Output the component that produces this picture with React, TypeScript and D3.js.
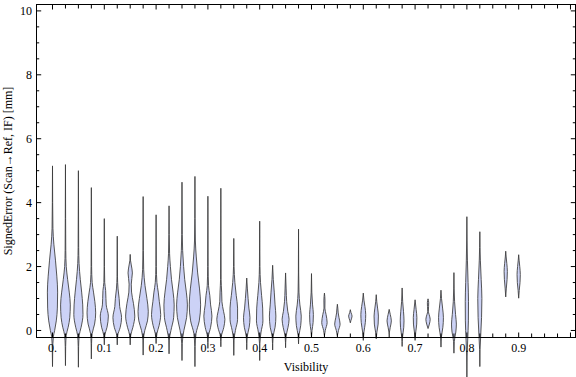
import React from "react";
import * as d3 from "d3";

const visibility: number[] = [
  0, 0.025, 0.05, 0.075, 0.1, 0.125, 0.15, 0.175, 0.2, 0.225, 0.25, 0.275,
  0.3, 0.325, 0.35, 0.375, 0.4, 0.425, 0.45, 0.475, 0.5, 0.525, 0.55, 0.575,
  0.6, 0.625, 0.65, 0.675, 0.7, 0.725, 0.75, 0.775, 0.8, 0.825, 0.875, 0.9,
];

// density profiles: [signed error, relative density]
const profiles: [number, number][][] = [
  [[-1.13,0],[-0.6,0.04],[-0.2,0.15],[0,0.4],[0.3,0.7],[0.7,0.9],[1.2,0.95],[1.7,0.8],[2.2,0.55],[2.7,0.25],[3.2,0.08],[4,0.03],[5.15,0]],
  [[-1.1,0],[-0.5,0.04],[-0.15,0.15],[0.1,0.5],[0.4,0.8],[0.8,0.9],[1.2,0.7],[1.6,0.4],[2.0,0.15],[2.5,0.06],[3.5,0.03],[5.19,0]],
  [[-1.15,0],[-0.5,0.04],[-0.15,0.15],[0.1,0.5],[0.5,0.85],[0.8,0.8],[1.2,0.6],[1.6,0.35],[2.1,0.12],[2.6,0.05],[5.0,0]],
  [[-0.89,0],[-0.4,0.04],[-0.1,0.15],[0.2,0.6],[0.55,0.8],[0.9,0.65],[1.2,0.4],[1.5,0.15],[2.0,0.05],[4.47,0]],
  [[-0.45,0],[-0.15,0.1],[0.1,0.5],[0.45,0.75],[0.8,0.35],[1.0,0.3],[1.25,0.25],[1.5,0.08],[2,0.03],[3.5,0]],
  [[-0.45,0],[-0.15,0.1],[0.1,0.55],[0.4,0.8],[0.75,0.45],[1.0,0.35],[1.3,0.15],[1.7,0.04],[2.95,0]],
  [[-0.45,0],[-0.15,0.1],[0.1,0.5],[0.45,0.85],[0.85,0.6],[1.2,0.25],[1.45,0.2],[1.8,0.4],[2.05,0.2],[2.2,0.05],[2.38,0]],
  [[-0.77,0],[-0.3,0.05],[0,0.3],[0.3,0.8],[0.6,0.95],[1.0,0.7],[1.4,0.35],[1.9,0.1],[2.5,0.04],[4.19,0]],
  [[-0.41,0],[-0.1,0.15],[0.15,0.55],[0.5,0.85],[0.9,0.6],[1.2,0.4],[1.5,0.15],[2,0.04],[3.62,0]],
  [[-0.73,0],[-0.3,0.05],[0,0.35],[0.4,0.85],[0.8,0.95],[1.2,0.75],[1.6,0.45],[2.0,0.25],[2.4,0.1],[3,0.04],[3.9,0]],
  [[-0.94,0],[-0.4,0.05],[0,0.35],[0.4,0.85],[0.8,1.0],[1.2,0.8],[1.6,0.5],[2.0,0.3],[2.5,0.12],[3,0.05],[4.64,0]],
  [[-1.13,0],[-0.5,0.04],[-0.1,0.2],[0.3,0.8],[0.8,1.05],[1.3,0.85],[1.8,0.5],[2.3,0.25],[2.8,0.08],[3.5,0.03],[4.82,0]],
  [[-0.56,0],[-0.2,0.08],[0.1,0.5],[0.45,0.75],[0.8,0.5],[1.1,0.35],[1.4,0.12],[2,0.04],[4.2,0]],
  [[-0.51,0],[-0.2,0.08],[0.1,0.55],[0.35,0.75],[0.6,0.5],[0.9,0.2],[1.2,0.15],[1.6,0.05],[4.45,0]],
  [[-0.78,0],[-0.3,0.05],[0,0.3],[0.35,0.7],[0.7,0.7],[1.1,0.45],[1.5,0.2],[2.0,0.05],[2.88,0]],
  [[-0.6,0],[-0.2,0.08],[0.1,0.45],[0.4,0.6],[0.7,0.4],[1.0,0.25],[1.3,0.12],[1.64,0]],
  [[-0.94,0],[-0.4,0.04],[-0.05,0.25],[0.3,0.6],[0.7,0.55],[1.1,0.35],[1.5,0.15],[2.0,0.05],[3.42,0]],
  [[-0.61,0],[-0.2,0.08],[0.1,0.45],[0.45,0.6],[0.8,0.45],[1.2,0.3],[1.6,0.12],[2.04,0]],
  [[-0.54,0],[-0.2,0.08],[0.1,0.45],[0.35,0.65],[0.6,0.4],[0.9,0.2],[1.3,0.1],[1.8,0]],
  [[-0.42,0],[-0.15,0.08],[0.15,0.4],[0.45,0.5],[0.8,0.25],[1.2,0.08],[1.8,0.03],[3.17,0]],
  [[-0.21,0],[0,0.1],[0.25,0.3],[0.5,0.35],[0.8,0.2],[1.2,0.06],[1.78,0]],
  [[-0.16,0],[0,0.15],[0.25,0.5],[0.5,0.3],[0.7,0.08],[0.95,0.1],[1.17,0]],
  [[-0.16,0],[0,0.2],[0.2,0.5],[0.4,0.3],[0.55,0.15],[0.7,0.08],[0.82,0]],
  [[0.24,0],[0.32,0.12],[0.45,0.32],[0.56,0.12],[0.65,0]],
  [[-0.31,0],[-0.05,0.12],[0.25,0.38],[0.5,0.45],[0.75,0.3],[0.95,0.12],[1.17,0]],
  [[-0.26,0],[-0.05,0.12],[0.2,0.35],[0.45,0.4],[0.7,0.25],[0.9,0.1],[1.12,0]],
  [[-0.1,0],[0.1,0.2],[0.3,0.4],[0.5,0.2],[0.66,0]],
  [[-0.5,0],[-0.2,0.08],[0.1,0.3],[0.3,0.35],[0.6,0.25],[0.9,0.1],[1.33,0]],
  [[-0.31,0],[-0.05,0.12],[0.2,0.3],[0.4,0.33],[0.65,0.2],[0.96,0]],
  [[0.06,0],[0.2,0.25],[0.35,0.4],[0.5,0.2],[0.6,0.06],[0.75,0.1],[0.87,0.12],[0.99,0]],
  [[-0.52,0],[-0.2,0.08],[0.1,0.35],[0.4,0.45],[0.7,0.3],[1.0,0.1],[1.26,0]],
  [[-0.71,0],[-0.35,0.06],[-0.05,0.35],[0.2,0.45],[0.5,0.3],[0.9,0.12],[1.3,0.04],[1.81,0]],
  [[-1.46,0],[-0.8,0.04],[-0.3,0.15],[0.3,0.28],[0.9,0.3],[1.5,0.22],[2.2,0.1],[2.8,0.04],[3.56,0]],
  [[-1.13,0],[-0.6,0.04],[-0.2,0.15],[0.4,0.32],[1.0,0.38],[1.6,0.25],[2.2,0.1],[2.6,0.04],[3.09,0]],
  [[1.05,0],[1.3,0.1],[1.6,0.25],[1.85,0.3],[2.1,0.2],[2.3,0.08],[2.48,0]],
  [[1.01,0],[1.25,0.1],[1.5,0.25],[1.75,0.3],[2.0,0.2],[2.2,0.08],[2.37,0]],
];

const xMajorTicks: number[] = [0, 0.1, 0.2, 0.3, 0.4, 0.5, 0.6, 0.7, 0.8, 0.9, 1.0];
const xTickLabels: string[] = ["0.", "0.1", "0.2", "0.3", "0.4", "0.5", "0.6", "0.7", "0.8", "0.9"];
const yMajorTicks: number[] = [0, 2, 4, 6, 8, 10];
const yTickLabels: string[] = ["0", "2", "4", "6", "8", "10"];

const W = 576;
const H = 377;
const left = 36.5, right = 575.5, top = 4.5, bottom = 337.5;

export default function App() {
  const x = d3.scaleLinear().domain([-0.0309, 1.0097]).range([left, right]);
  const y = d3.scaleLinear().domain([-0.22, 10.2]).range([bottom, top]);
  const w = d3.scaleLinear().domain([0, 1]).range([0, 5.4]);

  const xMinor = d3.range(0, 1.0001, 0.025).filter(
    (v) => !xMajorTicks.some((m) => Math.abs(m - v) < 1e-6)
  );
  const yMinor = d3.range(0, 10.2, 0.5).filter((v) => Math.abs(v % 2) > 1e-6);

  const font = "'Liberation Serif', 'Times New Roman', serif";

  return (
    <svg width={W} height={H} style={{ position: "absolute", left: 0, top: 0, background: "#fff" }}>
      {/* violins */}
      {visibility.map((v, i) => {
        const cx = x(v);
        const area = d3
          .area<[number, number]>()
          .y((d) => y(d[0]))
          .x0((d) => cx - w(d[1]))
          .x1((d) => cx + w(d[1]))
          .curve(d3.curveMonotoneY);
        return (
          <path
            key={i}
            d={area(profiles[i]) || ""}
            fill="#ccd2f6"
            stroke="#3a3a3a"
            strokeOpacity={0.85}
            strokeWidth={1}
          />
        );
      })}

      {/* frame */}
      <rect x={left} y={top} width={right - left} height={bottom - top} fill="none" stroke="#000" strokeWidth={1} />

      {/* x ticks bottom & top */}
      {xMajorTicks.map((t) => (
        <g key={"xM" + t}>
          <line x1={x(t)} x2={x(t)} y1={bottom} y2={bottom - 5} stroke="#000" />
          <line x1={x(t)} x2={x(t)} y1={top} y2={top + 5} stroke="#000" />
        </g>
      ))}
      {xMinor.map((t) => (
        <g key={"xm" + t}>
          <line x1={x(t)} x2={x(t)} y1={bottom} y2={bottom - 4} stroke="#000" />
          <line x1={x(t)} x2={x(t)} y1={top} y2={top + 4} stroke="#000" />
        </g>
      ))}
      {xTickLabels.map((lab, i) => (
        <text key={"xl" + i} x={x(xMajorTicks[i])} y={352} textAnchor="middle" fontFamily={font} fontSize={12} fill="#000">
          {lab}
        </text>
      ))}

      {/* y ticks left & right */}
      {yMajorTicks.map((t) => (
        <g key={"yM" + t}>
          <line x1={left} x2={left + 4.7} y1={y(t)} y2={y(t)} stroke="#000" />
          <line x1={right} x2={right - 4.7} y1={y(t)} y2={y(t)} stroke="#000" />
        </g>
      ))}
      {yMinor.map((t) => (
        <g key={"ym" + t}>
          <line x1={left} x2={left + 2.7} y1={y(t)} y2={y(t)} stroke="#000" />
          <line x1={right} x2={right - 2.7} y1={y(t)} y2={y(t)} stroke="#000" />
        </g>
      ))}
      {yTickLabels.map((lab, i) => (
        <text key={"yl" + i} x={32} y={y(yMajorTicks[i])} dy="0.35em" textAnchor="end" fontFamily={font} fontSize={12} fill="#000">
          {lab}
        </text>
      ))}

      {/* axis labels */}
      <text x={(left + right) / 2} y={371} textAnchor="middle" fontFamily={font} fontSize={12} fill="#000">
        Visibility
      </text>
      <text
        transform={`translate(12, ${(top + bottom) / 2}) rotate(-90)`}
        textAnchor="middle"
        fontFamily={font}
        fontSize={12}
        fill="#000"
      >
        SignedError (Scan→Ref, IF) [mm]
      </text>
    </svg>
  );
}
